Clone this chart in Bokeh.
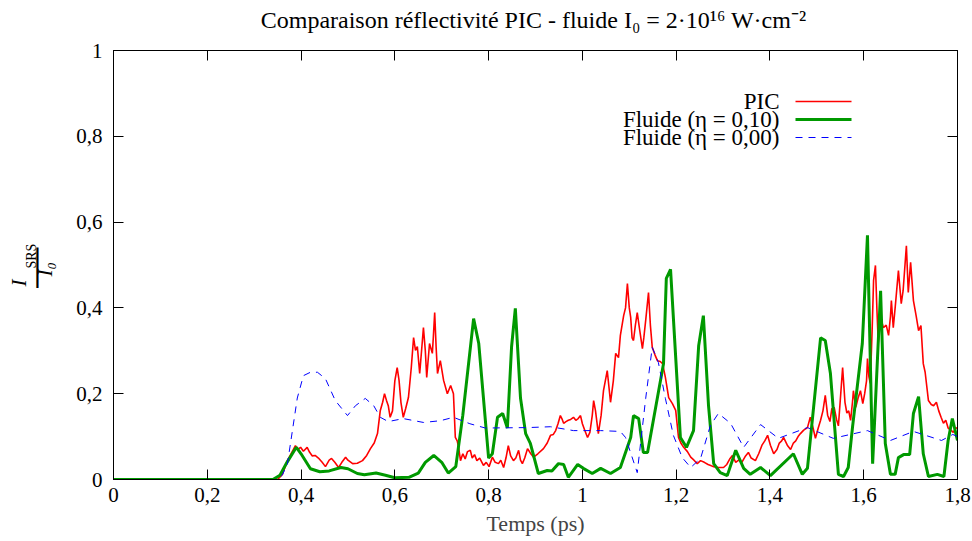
from math import pi
from bokeh.plotting import figure
from bokeh.models import FixedTicker, LinearAxis, Label, Arrow, Range1d
from bokeh.embed import file_html
from bokeh.resources import INLINE

# ---------------- data ----------------
pic_t = [0, 0.35, 0.36, 0.371, 0.388, 0.393, 0.399, 0.405, 0.413, 0.418, 0.424, 0.43, 0.437,
         0.445, 0.452, 0.46, 0.465, 0.472, 0.48, 0.487, 0.495, 0.5, 0.51, 0.52, 0.531, 0.54,
         0.548, 0.556, 0.563, 0.569, 0.574, 0.578, 0.582, 0.586, 0.59, 0.595, 0.6, 0.605,
         0.609, 0.613, 0.618, 0.623, 0.629, 0.635, 0.64, 0.644, 0.648, 0.653, 0.657, 0.661,
         0.665, 0.668, 0.674, 0.68, 0.682, 0.685, 0.688, 0.691, 0.697, 0.704, 0.712, 0.719,
         0.725, 0.729, 0.733, 0.736, 0.74, 0.745, 0.75, 0.755, 0.761, 0.765, 0.77, 0.775,
         0.781, 0.789, 0.795, 0.801, 0.808, 0.814, 0.821, 0.826, 0.832, 0.837, 0.842, 0.847,
         0.853, 0.858, 0.864, 0.868, 0.872, 0.877, 0.883, 0.89, 0.896, 0.905, 0.917, 0.925,
         0.932, 0.938, 0.943, 0.948, 0.953, 0.957, 0.96, 0.965, 0.97, 0.975, 0.981, 0.986,
         0.991, 0.996, 1.0, 1.005, 1.011, 1.016, 1.021, 1.024, 1.028, 1.034, 1.04, 1.045,
         1.053, 1.06, 1.066, 1.071, 1.077, 1.081, 1.088, 1.092, 1.096, 1.1, 1.103, 1.106,
         1.109, 1.113, 1.117, 1.122, 1.128, 1.131, 1.135, 1.141, 1.145, 1.149, 1.155, 1.16,
         1.166, 1.171, 1.177, 1.184, 1.192, 1.199, 1.205, 1.21, 1.216, 1.224, 1.231, 1.238,
         1.245, 1.252, 1.26, 1.268, 1.275, 1.28, 1.29, 1.301, 1.308, 1.315, 1.32, 1.327,
         1.333, 1.34, 1.348, 1.354, 1.36, 1.369, 1.376, 1.383, 1.389, 1.395, 1.401, 1.408,
         1.415, 1.42, 1.425, 1.429, 1.437, 1.444, 1.45, 1.455, 1.46, 1.465, 1.472, 1.48,
         1.486, 1.492, 1.497, 1.503, 1.508, 1.513, 1.518, 1.523, 1.528, 1.532, 1.537, 1.542,
         1.546, 1.551, 1.555, 1.56, 1.564, 1.568, 1.572, 1.576, 1.578, 1.583, 1.588, 1.593,
         1.598, 1.602, 1.606, 1.608, 1.611, 1.614, 1.618, 1.621, 1.625, 1.628, 1.631, 1.636,
         1.642, 1.648, 1.653, 1.657, 1.659, 1.663, 1.667, 1.674, 1.68, 1.684, 1.688, 1.691,
         1.695, 1.7, 1.706, 1.712, 1.717, 1.722, 1.727, 1.731, 1.738, 1.744, 1.749, 1.755,
         1.76, 1.765, 1.77, 1.775, 1.78, 1.786, 1.791, 1.796, 1.8]
pic_r = [0, 0, 0.012, 0.044, 0.079, 0.07, 0.075, 0.066, 0.075, 0.064, 0.055, 0.056, 0.05,
         0.04, 0.03, 0.045, 0.049, 0.04, 0.028, 0.04, 0.052, 0.045, 0.037, 0.038, 0.044, 0.056,
         0.072, 0.085, 0.107, 0.161, 0.18, 0.2, 0.185, 0.172, 0.145, 0.16, 0.23, 0.261,
         0.231, 0.18, 0.145, 0.165, 0.191, 0.26, 0.331, 0.301, 0.31, 0.247, 0.3, 0.354,
         0.3, 0.238, 0.317, 0.294, 0.33, 0.389, 0.31, 0.247, 0.277, 0.231, 0.2, 0.219,
         0.2, 0.098, 0.09, 0.075, 0.044, 0.06, 0.048, 0.065, 0.068, 0.05, 0.058, 0.044,
         0.05, 0.033, 0.04, 0.03, 0.052, 0.04, 0.037, 0.045, 0.028, 0.05, 0.079, 0.055,
         0.044, 0.05, 0.068, 0.045, 0.037, 0.05, 0.072, 0.06, 0.052, 0.06, 0.072, 0.085,
         0.103, 0.105, 0.114, 0.13, 0.149, 0.14, 0.131, 0.135, 0.138, 0.14, 0.145, 0.138,
         0.142, 0.149, 0.13, 0.115, 0.098, 0.11, 0.149, 0.184, 0.16, 0.107, 0.15, 0.207,
         0.254, 0.18, 0.23, 0.294, 0.284, 0.336, 0.382, 0.4, 0.457, 0.4, 0.378, 0.33,
         0.324, 0.36, 0.389, 0.35, 0.305, 0.33, 0.371, 0.436, 0.36, 0.308, 0.29, 0.277,
         0.275, 0.27, 0.238, 0.191, 0.177, 0.161, 0.098, 0.085, 0.075, 0.065, 0.052, 0.045,
         0.037, 0.044, 0.04, 0.035, 0.032, 0.03, 0.028, 0.028, 0.035, 0.049, 0.056, 0.04,
         0.045, 0.04, 0.055, 0.063, 0.05, 0.044, 0.06, 0.08, 0.09, 0.103, 0.08, 0.06,
         0.07, 0.085, 0.09, 0.098, 0.08, 0.07, 0.085, 0.09, 0.1, 0.107, 0.115, 0.121,
         0.145, 0.12, 0.096, 0.12, 0.138, 0.16, 0.196, 0.15, 0.135, 0.165, 0.168, 0.14,
         0.125, 0.2, 0.261, 0.18, 0.155, 0.16, 0.138, 0.18, 0.207, 0.168, 0.19, 0.207,
         0.177, 0.2, 0.23, 0.282, 0.24, 0.224, 0.35, 0.464, 0.499, 0.4, 0.319, 0.378,
         0.354, 0.36, 0.336, 0.38, 0.417, 0.354, 0.4, 0.487, 0.41, 0.44, 0.5, 0.545,
         0.436, 0.506, 0.417, 0.38, 0.347, 0.359, 0.27, 0.25, 0.184, 0.175, 0.172, 0.18,
         0.16, 0.145, 0.131, 0.138, 0.12, 0.115, 0.11, 0.119, 0.121]

fl10_t = [0, 0.34, 0.355, 0.37, 0.39, 0.4, 0.42, 0.44, 0.46, 0.485, 0.5, 0.52, 0.535, 0.56,
          0.58, 0.6, 0.63, 0.65, 0.665, 0.683, 0.7, 0.714, 0.73, 0.745, 0.768, 0.779, 0.8,
          0.808, 0.819, 0.83, 0.84, 0.849, 0.857, 0.868, 0.879, 0.889, 0.906, 0.925, 0.935,
          0.949, 0.96, 0.97, 0.99, 1.002, 1.021, 1.039, 1.06, 1.081, 1.103, 1.109, 1.12,
          1.13, 1.139, 1.173, 1.179, 1.188, 1.209, 1.222, 1.237, 1.248, 1.258, 1.269, 1.28,
          1.294, 1.309, 1.327, 1.344, 1.358, 1.38, 1.401, 1.45, 1.469, 1.48, 1.508, 1.518,
          1.529, 1.546, 1.557, 1.567, 1.576, 1.597, 1.608, 1.619, 1.636, 1.646, 1.657,
          1.667, 1.674, 1.685, 1.698, 1.706, 1.717, 1.727, 1.738, 1.757, 1.771, 1.78,
          1.789, 1.8]
fl10_r = [0, 0, 0.01, 0.04, 0.075, 0.06, 0.025, 0.018, 0.02, 0.028, 0.025, 0.014, 0.011,
          0.015, 0.01, 0.004, 0.005, 0.015, 0.04, 0.056, 0.04, 0.015, 0.03, 0.15, 0.375,
          0.317, 0.05, 0.06, 0.145, 0.154, 0.12, 0.31, 0.399, 0.19, 0.107, 0.084, 0.014,
          0.021, 0.02, 0.037, 0.035, 0.005, 0.035, 0.026, 0.014, 0.026, 0.014, 0.028, 0.098,
          0.149, 0.142, 0.063, 0.063, 0.27, 0.469, 0.49, 0.098, 0.075, 0.114, 0.312, 0.382,
          0.172, 0.037, 0.016, 0.009, 0.068, 0.026, 0.012, 0.028, 0.009, 0.06, 0.012, 0.026,
          0.33, 0.324, 0.247, 0.012, 0.007, 0.028, 0.121, 0.317, 0.569, 0.037, 0.44, 0.084,
          0.012, 0.012, 0.051, 0.058, 0.058, 0.154, 0.193, 0.06, 0.007, 0.012, 0.007, 0.091,
          0.142, 0.091]

fl00_t = [0, 0.35, 0.36, 0.371, 0.392, 0.405, 0.42, 0.435, 0.452, 0.473, 0.499, 0.516,
          0.537, 0.555, 0.569, 0.586, 0.618, 0.661, 0.697, 0.725, 0.76, 0.793, 0.883, 0.932,
          0.981, 1.039, 1.081, 1.092, 1.117, 1.135, 1.149, 1.162, 1.177, 1.194, 1.213, 1.231,
          1.252, 1.273, 1.29, 1.316, 1.344, 1.38, 1.418, 1.48, 1.535, 1.608, 1.657, 1.706,
          1.766, 1.79, 1.8]
fl00_r = [0, 0, 0.01, 0.037, 0.19, 0.242, 0.25, 0.25, 0.235, 0.184, 0.149, 0.172, 0.189,
          0.172, 0.145, 0.135, 0.142, 0.133, 0.137, 0.145, 0.13, 0.12, 0.121, 0.123, 0.114,
          0.114, 0.112, 0.098, 0.016, 0.189, 0.308, 0.273, 0.189, 0.103, 0.051, 0.028, 0.049,
          0.126, 0.154, 0.131, 0.075, 0.128, 0.096, 0.121, 0.096, 0.114, 0.091, 0.112, 0.091,
          0.105, 0.1]

series_names = ["PIC", "Fluide (η = 0,10)", "Fluide (η = 0,00)"]

x_ticks = [0.0, 0.2, 0.4, 0.6, 0.8, 1.0, 1.2, 1.4, 1.6, 1.8]
x_tick_labels = ["0", "0,2", "0,4", "0,6", "0,8", "1", "1,2", "1,4", "1,6", "1,8"]
y_ticks = [0.0, 0.2, 0.4, 0.6, 0.8, 1.0]
y_tick_labels = ["0", "0,2", "0,4", "0,6", "0,8", "1"]

title_text = "Comparaison réflectivité PIC - fluide I₀ = 2·10¹⁶ W·cm⁻²"
x_label = "Temps (ps)"

# ---------------- figure ----------------
FONT = "Liberation Serif"
FS = "21px"

p = figure(frame_width=844, frame_height=429,
           min_border_left=113, min_border_right=14,
           min_border_top=50, min_border_bottom=60,
           x_range=Range1d(0, 1.8), y_range=Range1d(0, 1),
           output_backend="svg", toolbar_location=None)
p.background_fill_color = "white"
p.border_fill_color = "white"
p.outline_line_color = "black"
p.outline_line_width = 1
p.grid.visible = False

x_over = {t: l for t, l in zip(x_ticks, x_tick_labels)}
y_over = {t: l for t, l in zip(y_ticks, y_tick_labels)}


def style_axis(ax, ticks, over, show_labels):
    ax.ticker = FixedTicker(ticks=ticks)
    ax.major_tick_in = 10
    ax.major_tick_out = 0
    ax.minor_tick_in = 0
    ax.minor_tick_out = 0
    ax.axis_line_color = "black"
    ax.major_tick_line_color = "black"
    ax.major_label_text_font = FONT
    if show_labels:
        ax.major_label_overrides = over
        ax.major_label_text_font_size = FS
        ax.major_label_text_color = "black"
    else:
        ax.major_label_text_font_size = "1px"
        ax.major_label_text_color = None
        ax.major_label_standoff = 0


style_axis(p.xaxis[0], x_ticks, x_over, True)
style_axis(p.yaxis[0], y_ticks, y_over, True)
p.xaxis[0].major_label_standoff = 8
p.yaxis[0].major_label_standoff = 11
p.xaxis[0].axis_label = x_label
p.xaxis[0].axis_label_text_font = FONT
p.xaxis[0].axis_label_text_font_size = "22px"
p.xaxis[0].axis_label_text_font_style = "normal"
p.xaxis[0].axis_label_standoff = 6

top_ax = LinearAxis()
right_ax = LinearAxis()
style_axis(top_ax, x_ticks, x_over, False)
style_axis(right_ax, y_ticks, y_over, False)
p.add_layout(top_ax, "above")
p.add_layout(right_ax, "right")

# ---------------- title (placed in the top panel) ----------------
p.add_layout(Label(x=0.896, y=1.070, text=title_text, text_font=FONT,
                   text_font_size="24px", text_align="center", text_baseline="middle",
                   text_color="black"), "above")

# ---------------- curves ----------------
p.line(pic_t, pic_r, line_color="#ff0000", line_width=1.6)
p.line(fl10_t, fl10_r, line_color="#009900", line_width=3)
p.line(fl00_t, fl00_r, line_color="#0000ff", line_width=1, line_dash="7 6")

# ---------------- legend (gnuplot style: text then sample) ----------------
leg_colors = ["#ff0000", "#009900", "#0000ff"]
leg_widths = [1.6, 3, 1]
leg_dash = ["solid", "solid", "7 6"]
leg_rows = [378, 360, 342]
for name, col, w, d, yy in zip(series_names, leg_colors, leg_widths, leg_dash, leg_rows):
    p.add_layout(Label(x=666, y=yy, x_units="screen", y_units="screen", text=name,
                       text_font=FONT, text_font_size="23px", text_align="right",
                       text_baseline="middle", text_color="black"))
    p.add_layout(Arrow(x_start=682, y_start=yy, x_end=738, y_end=yy,
                       start_units="screen", end_units="screen", start=None, end=None,
                       line_color=col, line_width=w, line_dash=d))

# ---------------- y axis label: I_SRS / I_0 (rotated fraction) ----------------
ylab = [("I", -0.2005, 0.450, FS, "italic"),
        ("SRS", -0.1749, 0.4918, "14px", "normal"),
        ("I₀", -0.1460, 0.4732, FS, "italic")]
for txt, xx, yy, fs, st in ylab:
    p.add_layout(Label(x=xx, y=yy, text=txt, angle=pi / 2, text_font=FONT,
                       text_font_style=st, text_font_size=fs, text_align="left",
                       text_baseline="middle", text_color="black"), "left")
# fraction bar
p.add_layout(Label(x=-0.1621, y=0.5012, text="|", text_font=FONT, text_font_size="44px",
                   text_align="center", text_baseline="middle", text_color="black"), "left")

open("out.html", "w").write(file_html(p, INLINE))
